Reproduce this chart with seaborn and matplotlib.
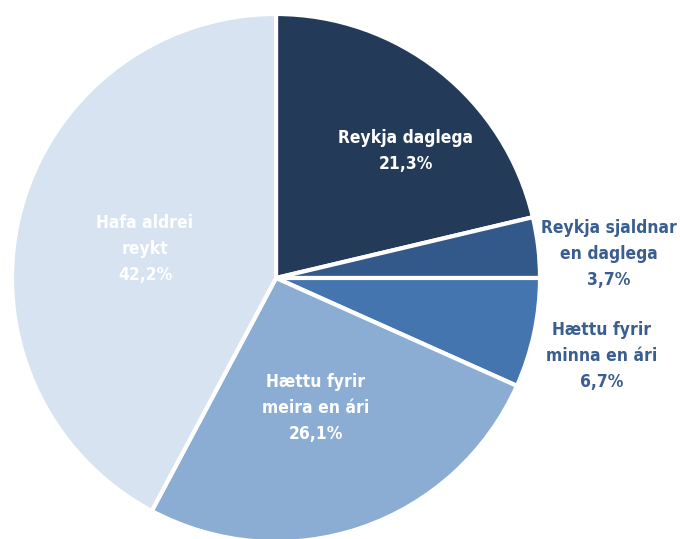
import matplotlib
matplotlib.use("Agg")
import matplotlib.pyplot as plt
import seaborn as sns

sns.set_theme(style="white")
plt.rcParams["font.family"] = ["DejaVu Sans"]

categories = ["Reykja daglega", "Reykja sjaldnar\nen daglega", "Hættu fyrir\nminna en ári",
              "Hættu fyrir\nmeira en ári", "Hafa aldrei\nreykt"]
values = [21.3, 3.7, 6.7, 26.1, 42.2]
value_labels = ["21,3%", "3,7%", "6,7%", "26,1%", "42,2%"]
colors = ["#243A59", "#33588A", "#4475AF", "#8BADD4", "#D7E3F0"]

W, H, DPI = 680, 539, 100
cx, cy, R = 276, 278, 264

fig = plt.figure(figsize=(W / DPI, H / DPI), dpi=DPI)
ax = fig.add_axes([0, 0, 1, 1])
ax.pie(values, colors=colors, startangle=90, counterclock=False, radius=1,
       wedgeprops=dict(edgecolor="white", linewidth=3))
ax.set_xlim(-cx / R, (W - cx) / R)
ax.set_ylim(-(H - cy) / R, cy / R)
ax.set_aspect("auto")
ax.axis("off")

def P(px, py):
    return (px - cx) / R, (cy - py) / R

label_pos = [(406, 151), (609, 254), (602, 356), (316, 408), (145, 249)]
label_colors = ["white", "#3A5E8F", "#3A5E8F", "white", "white"]
for cat, val, (px, py), c in zip(categories, value_labels, label_pos, label_colors):
    x, y = P(px, py)
    ax.text(x, y, f"{cat}\n{val}", ha="center", va="center", color=c,
            fontsize=12.5, fontweight="bold", fontstretch="condensed", linespacing=1.55)

fig.savefig("out.png", dpi=DPI)
